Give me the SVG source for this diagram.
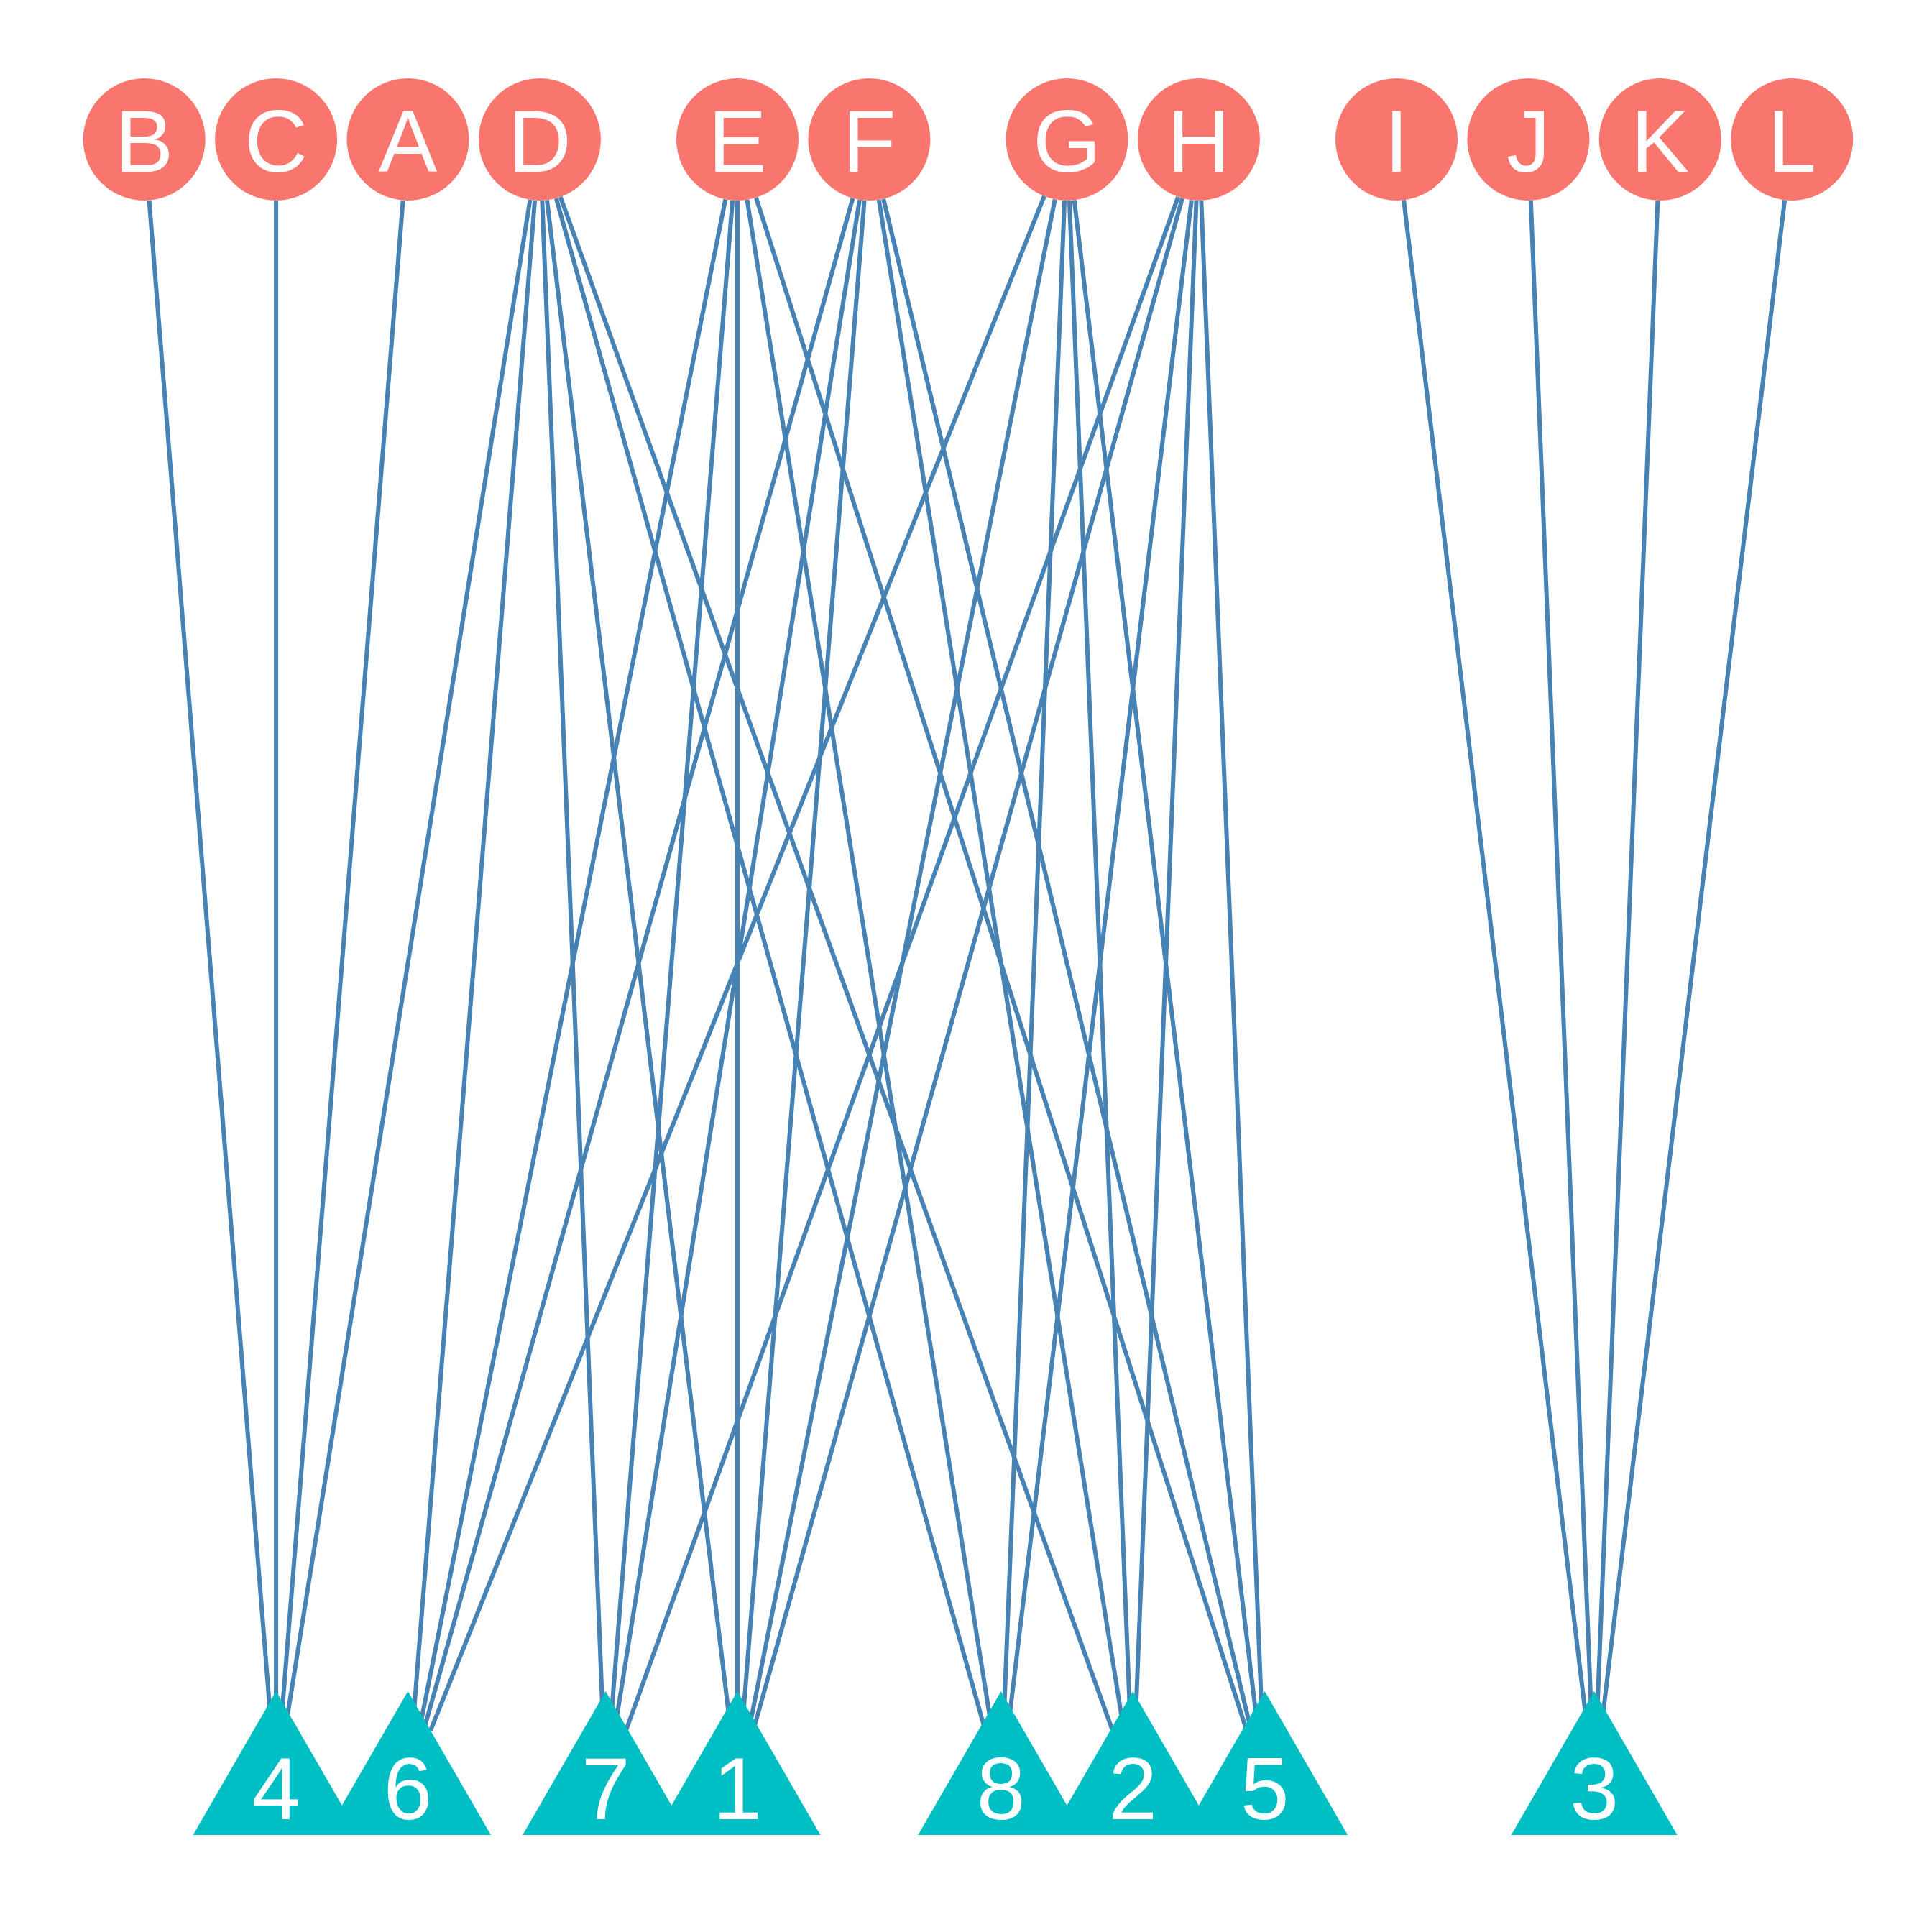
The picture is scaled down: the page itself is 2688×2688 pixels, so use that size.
<svg xmlns="http://www.w3.org/2000/svg" width="2688" height="2688" viewBox="0 0 2688 2688">
<style>
.e{stroke:#4682B4;stroke-width:6;fill:none}
.c{fill:#F8766D}
.t{fill:#00BFC4}
.l{font-family:"Liberation Sans",Arial,sans-serif;font-size:122px;fill:#FFFFFF;text-anchor:middle}
</style>
<rect width="2688" height="2688" fill="#FFFFFF"/>
<g transform="translate(0.7 0)">
<g id="edges">
<line class="e" x1="206.8" y1="278.7" x2="376.6" y2="2401.6"/>
<line class="e" x1="383.4" y1="279" x2="383.4" y2="2401.3"/>
<line class="e" x1="560.0" y1="278.7" x2="390.2" y2="2401.6"/>
<line class="e" x1="736.8" y1="277.9" x2="396.8" y2="2402.4"/>
<line class="e" x1="743.4" y1="278.7" x2="573.6" y2="2401.6"/>
<line class="e" x1="1008.6" y1="277.4" x2="583.5" y2="2403.0"/>
<line class="e" x1="1185.8" y1="275.9" x2="589.7" y2="2404.5"/>
<line class="e" x1="1452.2" y1="272.9" x2="598.4" y2="2407.4"/>
<line class="e" x1="753.6" y1="278.9" x2="838.5" y2="2401.4"/>
<line class="e" x1="1018.5" y1="278.7" x2="848.7" y2="2401.6"/>
<line class="e" x1="1195.3" y1="277.9" x2="855.3" y2="2402.4"/>
<line class="e" x1="1638.4" y1="274.0" x2="870.7" y2="2406.3"/>
<line class="e" x1="760.3" y1="278.4" x2="1015.2" y2="2401.9"/>
<line class="e" x1="1025.3" y1="279" x2="1025.3" y2="2401.3"/>
<line class="e" x1="1201.9" y1="278.7" x2="1032.1" y2="2401.6"/>
<line class="e" x1="1467.1" y1="277.4" x2="1042.0" y2="2403.0"/>
<line class="e" x1="1644.3" y1="275.9" x2="1048.2" y2="2404.5"/>
<line class="e" x1="773.1" y1="275.9" x2="1369.2" y2="2404.5"/>
<line class="e" x1="1038.7" y1="277.9" x2="1378.7" y2="2402.4"/>
<line class="e" x1="1480.4" y1="278.9" x2="1395.5" y2="2401.4"/>
<line class="e" x1="1657.1" y1="278.4" x2="1402.2" y2="2401.9"/>
<line class="e" x1="779.0" y1="274.0" x2="1546.7" y2="2406.3"/>
<line class="e" x1="1222.1" y1="277.9" x2="1562.1" y2="2402.4"/>
<line class="e" x1="1487.2" y1="278.9" x2="1572.1" y2="2401.4"/>
<line class="e" x1="1663.8" y1="278.9" x2="1578.9" y2="2401.4"/>
<line class="e" x1="1051.2" y1="275.0" x2="1733.0" y2="2405.3"/>
<line class="e" x1="1228.5" y1="276.7" x2="1739.1" y2="2403.7"/>
<line class="e" x1="1493.9" y1="278.4" x2="1748.8" y2="2401.9"/>
<line class="e" x1="1670.6" y1="278.9" x2="1755.5" y2="2401.4"/>
<line class="e" x1="1952.4" y1="278.4" x2="2207.3" y2="2401.9"/>
<line class="e" x1="2129.1" y1="278.9" x2="2214.0" y2="2401.4"/>
<line class="e" x1="2305.7" y1="278.9" x2="2220.8" y2="2401.4"/>
<line class="e" x1="2482.4" y1="278.4" x2="2227.5" y2="2401.9"/>
</g>
<g id="node-B"><circle class="c" cx="200" cy="194" r="85"/><text class="l" x="200" y="238.5">B</text></g>
<g id="node-C"><circle class="c" cx="383.4" cy="194" r="85"/><text class="l" x="383.4" y="238.5">C</text></g>
<g id="node-A"><circle class="c" cx="566.8" cy="194" r="85"/><text class="l" x="566.8" y="238.5">A</text></g>
<g id="node-D"><circle class="c" cx="750.2" cy="194" r="85"/><text class="l" x="750.2" y="238.5">D</text></g>
<g id="node-E"><circle class="c" cx="1025.3" cy="194" r="85"/><text class="l" x="1025.3" y="238.5">E</text></g>
<g id="node-F"><circle class="c" cx="1208.7" cy="194" r="85"/><text class="l" x="1208.7" y="238.5">F</text></g>
<g id="node-G"><circle class="c" cx="1483.8" cy="194" r="85"/><text class="l" x="1483.8" y="238.5">G</text></g>
<g id="node-H"><circle class="c" cx="1667.2" cy="194" r="85"/><text class="l" x="1667.2" y="238.5">H</text></g>
<g id="node-I"><circle class="c" cx="1942.3" cy="194" r="85"/><text class="l" x="1942.3" y="238.5">I</text></g>
<g id="node-J"><circle class="c" cx="2125.7" cy="194" r="85"/><text class="l" x="2125.7" y="238.5">J</text></g>
<g id="node-K"><circle class="c" cx="2309.1" cy="194" r="85"/><text class="l" x="2309.1" y="238.5">K</text></g>
<g id="node-L"><circle class="c" cx="2492.5" cy="194" r="85"/><text class="l" x="2492.5" y="238.5">L</text></g>
<g id="node-4"><polygon class="t" points="383.4,2353 498.9,2553 267.9,2553"/></g>
<g id="node-6"><polygon class="t" points="566.8,2353 682.3,2553 451.3,2553"/></g>
<g id="node-7"><polygon class="t" points="841.9,2353 957.4,2553 726.4,2553"/></g>
<g id="node-1"><polygon class="t" points="1025.3,2353 1140.8,2553 909.8,2553"/></g>
<g id="node-8"><polygon class="t" points="1392.1,2353 1507.6,2553 1276.6,2553"/></g>
<g id="node-2"><polygon class="t" points="1575.5,2353 1691.0,2553 1460.0,2553"/></g>
<g id="node-5"><polygon class="t" points="1758.9,2353 1874.4,2553 1643.4,2553"/></g>
<g id="node-3"><polygon class="t" points="2217.4,2353 2332.9,2553 2101.9,2553"/></g>
<g id="labels-bottom">
<text class="l" x="383.4" y="2530.5">4</text>
<text class="l" x="566.8" y="2530.5">6</text>
<text class="l" x="841.9" y="2530.5">7</text>
<text class="l" x="1025.3" y="2530.5">1</text>
<text class="l" x="1392.1" y="2530.5">8</text>
<text class="l" x="1575.5" y="2530.5">2</text>
<text class="l" x="1758.9" y="2530.5">5</text>
<text class="l" x="2217.4" y="2530.5">3</text>
</g>
</g>
</svg>
